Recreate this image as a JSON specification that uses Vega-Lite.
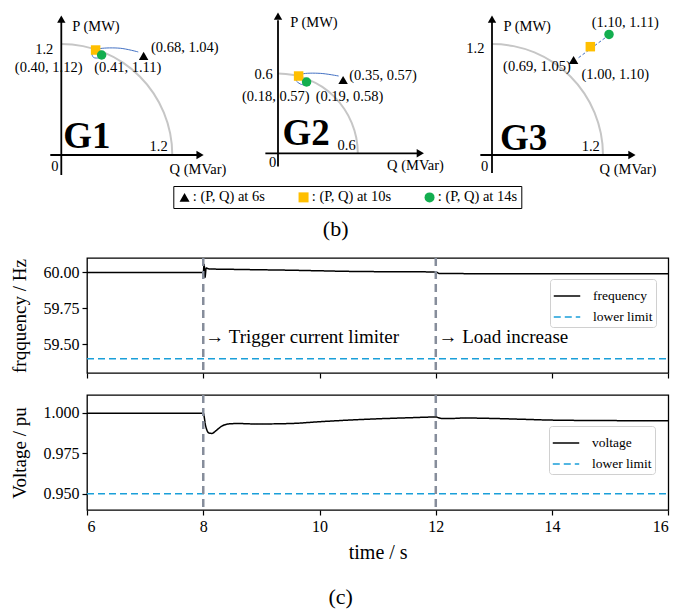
{
"$schema": "https://vega.github.io/schema/vega-lite/v6.json",
"background": "white",
"padding": {"left": 9, "top": 0, "right": 0, "bottom": 0},
"config": {
  "view": {"stroke": null},
  "font": "Liberation Serif",
  "text": {"font": "Liberation Serif", "color": "black"},
  "title": {"font": "Liberation Serif", "fontWeight": "normal", "color": "black", "fontSize": 22},
  "axis": {"labelFont": "Liberation Serif", "labelFontSize": 16, "labelColor": "black", "tickColor": "black", "tickWidth": 1.2, "tickSize": 5, "labelPadding": 3, "titleFont": "Liberation Serif", "titleFontSize": 19, "titleFontWeight": "normal", "titleColor": "black", "grid": false, "domain": false},
  "axisY": {"titlePadding": 14},
  "axisX": {"titlePadding": 8, "titleFontSize": 20},
  "legend": {"labelFont": "Liberation Serif", "labelColor": "black"}
},
"datasets": {
  "pts": [
    {"g": "G1", "t": "6s", "q": 0.89, "p": 1.072},
    {"g": "G1", "t": "10s", "q": 0.371, "p": 1.135},
    {"g": "G1", "t": "14s", "q": 0.436, "p": 1.081},
    {"g": "G2", "t": "6s", "q": 0.4895, "p": 0.551},
    {"g": "G2", "t": "10s", "q": 0.155, "p": 0.581},
    {"g": "G2", "t": "14s", "q": 0.215, "p": 0.536},
    {"g": "G3", "t": "6s", "q": 0.882, "p": 1.027},
    {"g": "G3", "t": "10s", "q": 1.063, "p": 1.171},
    {"g": "G3", "t": "14s", "q": 1.265, "p": 1.303}
  ],
  "traj": [
    {"g": "G1", "i": 1, "q": 0.832, "p": 1.114},
    {"g": "G1", "i": 2, "q": 0.638, "p": 1.154},
    {"g": "G1", "i": 3, "q": 0.422, "p": 1.151},
    {"g": "G1", "i": 4, "q": 0.371, "p": 1.135},
    {"g": "G1", "i": 5, "q": 0.332, "p": 1.103},
    {"g": "G1", "i": 6, "q": 0.349, "p": 1.054},
    {"g": "G1", "i": 7, "q": 0.4, "p": 1.049},
    {"g": "G2", "i": 1, "q": 0.456, "p": 0.581},
    {"g": "G2", "i": 2, "q": 0.318, "p": 0.601},
    {"g": "G2", "i": 3, "q": 0.18, "p": 0.596},
    {"g": "G2", "i": 4, "q": 0.155, "p": 0.581},
    {"g": "G2", "i": 5, "q": 0.135, "p": 0.551},
    {"g": "G2", "i": 6, "q": 0.168, "p": 0.521},
    {"g": "G2", "i": 7, "q": 0.198, "p": 0.514},
    {"g": "G3", "i": 1, "q": 0.936, "p": 1.052},
    {"g": "G3", "i": 2, "q": 1.225, "p": 1.268}
  ],
  "axes": [
    {"g": "G1", "q": -0.119, "q2": 1.47, "p": 0, "p2": 0},
    {"g": "G1", "q": 0, "q2": 0, "p": -0.216, "p2": 1.44},
    {"g": "G2", "q": -0.095, "q2": 1.045, "p": 0, "p2": 0},
    {"g": "G2", "q": 0, "q2": 0, "p": -0.1, "p2": 1.0},
    {"g": "G3", "q": -0.126, "q2": 1.49, "p": 0, "p2": 0},
    {"g": "G3", "q": 0, "q2": 0, "p": -0.195, "p2": 1.44}
  ],
  "arrows": [
    {"g": "G1", "dir": "right", "q": 1.5, "p": 0},
    {"g": "G1", "dir": "up", "q": 0, "p": 1.47},
    {"g": "G2", "dir": "right", "q": 1.07, "p": 0},
    {"g": "G2", "dir": "up", "q": 0, "p": 1.032},
    {"g": "G3", "dir": "right", "q": 1.513, "p": 0},
    {"g": "G3", "dir": "up", "q": 0, "p": 1.47}
  ],
  "arcs": [
    {"g": "G1", "q": 0, "p": 0},
    {"g": "G2", "q": 0, "p": 0},
    {"g": "G3", "q": 0, "p": 0}
  ],
  "txt": [
    {"g": "G1", "kind": "c", "label": "(0.40, 1.12)", "q": -0.137, "p": 0.937},
    {"g": "G1", "kind": "c", "label": "(0.41, 1.11)", "q": 0.719, "p": 0.937},
    {"g": "G1", "kind": "c", "label": "(0.68, 1.04)", "q": 1.335, "p": 1.153},
    {"g": "G1", "kind": "c", "label": "1.2", "q": -0.184, "p": 1.135},
    {"g": "G1", "kind": "c", "label": "1.2", "q": 1.052, "p": 0.09},
    {"g": "G1", "kind": "c", "label": "0", "q": -0.07, "p": -0.126},
    {"g": "G1", "kind": "l", "label": "P (MW)", "q": 0.119, "p": 1.384},
    {"g": "G1", "kind": "l", "label": "Q (MVar)", "q": 1.171, "p": -0.162},
    {"g": "G1", "kind": "big", "label": "G1", "q": 0.276, "p": 0.0757},
    {"g": "G2", "kind": "c", "label": "(0.35, 0.57)", "q": 0.79, "p": 0.581},
    {"g": "G2", "kind": "c", "label": "(0.18, 0.57)", "q": -0.0165, "p": 0.426},
    {"g": "G2", "kind": "c", "label": "(0.19, 0.58)", "q": 0.5376, "p": 0.426},
    {"g": "G2", "kind": "c", "label": "0.6", "q": -0.108, "p": 0.589},
    {"g": "G2", "kind": "c", "label": "0.6", "q": 0.516, "p": 0.057},
    {"g": "G2", "kind": "c", "label": "0", "q": -0.04, "p": -0.075},
    {"g": "G2", "kind": "l", "label": "P (MW)", "q": 0.0925, "p": 0.977},
    {"g": "G2", "kind": "l", "label": "Q (MVar)", "q": 0.82, "p": -0.093},
    {"g": "G2", "kind": "big", "label": "G2", "q": 0.211, "p": 0.0624},
    {"g": "G3", "kind": "c", "label": "(1.10, 1.11)", "q": 1.441, "p": 1.424},
    {"g": "G3", "kind": "c", "label": "(0.69, 1.05)", "q": 0.486, "p": 0.948},
    {"g": "G3", "kind": "c", "label": "(1.00, 1.10)", "q": 1.333, "p": 0.865},
    {"g": "G3", "kind": "c", "label": "1.2", "q": -0.18, "p": 1.143},
    {"g": "G3", "kind": "c", "label": "1.2", "q": 1.068, "p": 0.09},
    {"g": "G3", "kind": "c", "label": "0", "q": -0.08, "p": -0.126},
    {"g": "G3", "kind": "l", "label": "P (MW)", "q": 0.125, "p": 1.387},
    {"g": "G3", "kind": "l", "label": "Q (MVar)", "q": 1.163, "p": -0.162},
    {"g": "G3", "kind": "big", "label": "G3", "q": 0.342, "p": 0.054}
  ],
  "freq": [
    {"t": 6, "v": 60.0, "series": "frequency"},
    {"t": 8, "v": 60.0, "series": "frequency"},
    {"t": 8.015, "v": 60.055, "series": "frequency"},
    {"t": 8.03, "v": 59.965, "series": "frequency"},
    {"t": 8.05, "v": 60.03, "series": "frequency"},
    {"t": 8.1, "v": 60.024, "series": "frequency"},
    {"t": 8.5, "v": 60.021, "series": "frequency"},
    {"t": 9, "v": 60.018, "series": "frequency"},
    {"t": 9.5, "v": 60.015, "series": "frequency"},
    {"t": 10, "v": 60.011, "series": "frequency"},
    {"t": 10.5, "v": 60.007, "series": "frequency"},
    {"t": 11, "v": 60.005, "series": "frequency"},
    {"t": 11.5, "v": 60.004, "series": "frequency"},
    {"t": 12, "v": 60.003, "series": "frequency"},
    {"t": 12.06, "v": 59.992, "series": "frequency"},
    {"t": 13, "v": 59.991, "series": "frequency"},
    {"t": 16, "v": 59.991, "series": "frequency"},
    {"t": 6, "v": 59.4, "series": "lower limit"},
    {"t": 16, "v": 59.4, "series": "lower limit"}
  ],
  "volt": [
    {"t": 6, "v": 0.9998, "series": "voltage"},
    {"t": 8, "v": 0.9998, "series": "voltage"},
    {"t": 8.04, "v": 0.992, "series": "voltage"},
    {"t": 8.1, "v": 0.9875, "series": "voltage"},
    {"t": 8.15, "v": 0.9873, "series": "voltage"},
    {"t": 8.22, "v": 0.989, "series": "voltage"},
    {"t": 8.32, "v": 0.9918, "series": "voltage"},
    {"t": 8.45, "v": 0.9932, "series": "voltage"},
    {"t": 8.6, "v": 0.9934, "series": "voltage"},
    {"t": 8.9, "v": 0.9931, "series": "voltage"},
    {"t": 9.5, "v": 0.9934, "series": "voltage"},
    {"t": 10, "v": 0.9945, "series": "voltage"},
    {"t": 10.5, "v": 0.9955, "series": "voltage"},
    {"t": 11, "v": 0.9963, "series": "voltage"},
    {"t": 11.5, "v": 0.9969, "series": "voltage"},
    {"t": 12, "v": 0.9974, "series": "voltage"},
    {"t": 12.1, "v": 0.9965, "series": "voltage"},
    {"t": 12.25, "v": 0.9965, "series": "voltage"},
    {"t": 12.5, "v": 0.9968, "series": "voltage"},
    {"t": 13, "v": 0.9965, "series": "voltage"},
    {"t": 13.5, "v": 0.996, "series": "voltage"},
    {"t": 14, "v": 0.9955, "series": "voltage"},
    {"t": 15, "v": 0.9952, "series": "voltage"},
    {"t": 16, "v": 0.9951, "series": "voltage"},
    {"t": 6, "v": 0.95, "series": "lower limit"},
    {"t": 16, "v": 0.95, "series": "lower limit"}
  ],
  "events": [{"t": 8}, {"t": 12}],
  "ann": [
    {"t": 8.036, "v": 59.553, "label": "→ Trigger current limiter"},
    {"t": 12.046, "v": 59.553, "label": "→ Load increase"}
  ]
},
"vconcat": [
  {
    "width": 601.3, "height": 236,
    "resolve": {"scale": {"x": "independent", "y": "independent"}},
    "layer": [
      {
        "encoding": {
          "x": {"field": "q", "type": "quantitative", "scale": {"domain": [0.2778, 6.7784], "nice": false, "zero": false}, "axis": null},
          "y": {"field": "p", "type": "quantitative", "scale": {"domain": [-0.8757, 1.6757], "nice": false, "zero": false}, "axis": null}
        },
        "layer": [
          {"data": {"name": "arcs"}, "transform": [{"filter": "datum.g == 'G1'"}], "mark": {"type": "arc", "theta": 0, "theta2": 1.5708, "radius": 112, "radius2": 110, "fill": "#c6c6c6"}},
          {"data": {"name": "axes"}, "transform": [{"filter": "datum.g == 'G1'"}], "mark": {"type": "rule", "color": "black", "strokeWidth": 1.8}, "encoding": {"x2": {"field": "q2"}, "y2": {"field": "p2"}}},
          {"data": {"name": "arrows"}, "transform": [{"filter": "datum.g == 'G1' && datum.dir == 'right'"}], "mark": {"type": "point", "shape": "triangle-right", "filled": true, "color": "black", "size": 70, "opacity": 1}},
          {"data": {"name": "arrows"}, "transform": [{"filter": "datum.g == 'G1' && datum.dir == 'up'"}], "mark": {"type": "point", "shape": "triangle-up", "filled": true, "color": "black", "size": 70, "opacity": 1}},
          {"data": {"name": "traj"}, "transform": [{"filter": "datum.g == 'G1'"}], "mark": {"type": "line", "color": "#4472c4", "strokeWidth": 1, "interpolate": "catmull-rom"}, "encoding": {"order": {"field": "i", "type": "quantitative"}}},
          {"data": {"name": "pts"}, "transform": [{"filter": "datum.g == 'G1'"}], "mark": {"type": "point", "filled": true, "size": 90, "opacity": 1},
           "encoding": {
             "shape": {"field": "t", "type": "nominal", "scale": {"domain": ["6s", "10s", "14s"], "range": ["triangle-up", "square", "circle"]}},
             "color": {"field": "t", "type": "nominal", "scale": {"domain": ["6s", "10s", "14s"], "range": ["#000000", "#ffbf00", "#13ae4f"]},
               "legend": {"orient": "none", "legendX": 86.3, "legendY": 186, "direction": "horizontal", "title": null, "strokeColor": "black", "padding": 4, "columnPadding": 31, "labelFontSize": 14.5, "symbolSize": 100, "labelOffset": 1, "symbolStrokeWidth": 0, "labelExpr": "': (P, Q) at ' + datum.label"}}
           }},
          {"data": {"name": "txt"}, "transform": [{"filter": "datum.g == 'G1' && datum.kind == 'c'"}], "mark": {"type": "text", "fontSize": 14.5, "align": "center", "baseline": "middle"}, "encoding": {"text": {"field": "label"}}},
          {"data": {"name": "txt"}, "transform": [{"filter": "datum.g == 'G1' && datum.kind == 'l'"}], "mark": {"type": "text", "fontSize": 14.5, "align": "left", "baseline": "middle"}, "encoding": {"text": {"field": "label"}}},
          {"data": {"name": "txt"}, "transform": [{"filter": "datum.g == 'G1' && datum.kind == 'big'"}], "mark": {"type": "text", "fontSize": 37, "fontWeight": "bold", "align": "center", "baseline": "alphabetic"}, "encoding": {"text": {"field": "label"}}}
        ]
      },
      {
        "encoding": {
          "x": {"field": "q", "type": "quantitative", "scale": {"domain": [-1.4361, 3.085], "nice": false, "zero": false}, "axis": null},
          "y": {"field": "p", "type": "quantitative", "scale": {"domain": [-0.6218, 1.1526], "nice": false, "zero": false}, "axis": null}
        },
        "layer": [
          {"data": {"name": "arcs"}, "transform": [{"filter": "datum.g == 'G2'"}], "mark": {"type": "arc", "theta": 0, "theta2": 1.5708, "radius": 80.8, "radius2": 78.8, "fill": "#c6c6c6"}},
          {"data": {"name": "axes"}, "transform": [{"filter": "datum.g == 'G2'"}], "mark": {"type": "rule", "color": "black", "strokeWidth": 1.8}, "encoding": {"x2": {"field": "q2"}, "y2": {"field": "p2"}}},
          {"data": {"name": "arrows"}, "transform": [{"filter": "datum.g == 'G2' && datum.dir == 'right'"}], "mark": {"type": "point", "shape": "triangle-right", "filled": true, "color": "black", "size": 70, "opacity": 1}},
          {"data": {"name": "arrows"}, "transform": [{"filter": "datum.g == 'G2' && datum.dir == 'up'"}], "mark": {"type": "point", "shape": "triangle-up", "filled": true, "color": "black", "size": 70, "opacity": 1}},
          {"data": {"name": "traj"}, "transform": [{"filter": "datum.g == 'G2'"}], "mark": {"type": "line", "color": "#4472c4", "strokeWidth": 1, "interpolate": "catmull-rom"}, "encoding": {"order": {"field": "i", "type": "quantitative"}}},
          {"data": {"name": "pts"}, "transform": [{"filter": "datum.g == 'G2'"}], "mark": {"type": "point", "filled": true, "size": 90, "opacity": 1},
           "encoding": {
             "shape": {"field": "t", "type": "nominal", "scale": {"domain": ["6s", "10s", "14s"], "range": ["triangle-up", "square", "circle"]}},
             "color": {"field": "t", "type": "nominal", "scale": {"domain": ["6s", "10s", "14s"], "range": ["#000000", "#ffbf00", "#13ae4f"]}}
           }},
          {"data": {"name": "txt"}, "transform": [{"filter": "datum.g == 'G2' && datum.kind == 'c'"}], "mark": {"type": "text", "fontSize": 14.5, "align": "center", "baseline": "middle"}, "encoding": {"text": {"field": "label"}}},
          {"data": {"name": "txt"}, "transform": [{"filter": "datum.g == 'G2' && datum.kind == 'l'"}], "mark": {"type": "text", "fontSize": 14.5, "align": "left", "baseline": "middle"}, "encoding": {"text": {"field": "label"}}},
          {"data": {"name": "txt"}, "transform": [{"filter": "datum.g == 'G2' && datum.kind == 'big'"}], "mark": {"type": "text", "fontSize": 37, "fontWeight": "bold", "align": "center", "baseline": "alphabetic"}, "encoding": {"text": {"field": "label"}}}
        ]
      },
      {
        "encoding": {
          "x": {"field": "q", "type": "quantitative", "scale": {"domain": [-4.3784, 2.1222], "nice": false, "zero": false}, "axis": null},
          "y": {"field": "p", "type": "quantitative", "scale": {"domain": [-0.8757, 1.6757], "nice": false, "zero": false}, "axis": null}
        },
        "layer": [
          {"data": {"name": "arcs"}, "transform": [{"filter": "datum.g == 'G3'"}], "mark": {"type": "arc", "theta": 0, "theta2": 1.5708, "radius": 112, "radius2": 110, "fill": "#c6c6c6"}},
          {"data": {"name": "axes"}, "transform": [{"filter": "datum.g == 'G3'"}], "mark": {"type": "rule", "color": "black", "strokeWidth": 1.8}, "encoding": {"x2": {"field": "q2"}, "y2": {"field": "p2"}}},
          {"data": {"name": "arrows"}, "transform": [{"filter": "datum.g == 'G3' && datum.dir == 'right'"}], "mark": {"type": "point", "shape": "triangle-right", "filled": true, "color": "black", "size": 70, "opacity": 1}},
          {"data": {"name": "arrows"}, "transform": [{"filter": "datum.g == 'G3' && datum.dir == 'up'"}], "mark": {"type": "point", "shape": "triangle-up", "filled": true, "color": "black", "size": 70, "opacity": 1}},
          {"data": {"name": "traj"}, "transform": [{"filter": "datum.g == 'G3'"}], "mark": {"type": "line", "color": "#4472c4", "strokeWidth": 1, "strokeDash": [3, 2]}, "encoding": {"order": {"field": "i", "type": "quantitative"}}},
          {"data": {"name": "pts"}, "transform": [{"filter": "datum.g == 'G3'"}], "mark": {"type": "point", "filled": true, "size": 90, "opacity": 1},
           "encoding": {
             "shape": {"field": "t", "type": "nominal", "scale": {"domain": ["6s", "10s", "14s"], "range": ["triangle-up", "square", "circle"]}},
             "color": {"field": "t", "type": "nominal", "scale": {"domain": ["6s", "10s", "14s"], "range": ["#000000", "#ffbf00", "#13ae4f"]}}
           }},
          {"data": {"name": "txt"}, "transform": [{"filter": "datum.g == 'G3' && datum.kind == 'c'"}], "mark": {"type": "text", "fontSize": 14.5, "align": "center", "baseline": "middle"}, "encoding": {"text": {"field": "label"}}},
          {"data": {"name": "txt"}, "transform": [{"filter": "datum.g == 'G3' && datum.kind == 'l'"}], "mark": {"type": "text", "fontSize": 14.5, "align": "left", "baseline": "middle"}, "encoding": {"text": {"field": "label"}}},
          {"data": {"name": "txt"}, "transform": [{"filter": "datum.g == 'G3' && datum.kind == 'big'"}], "mark": {"type": "text", "fontSize": 37, "fontWeight": "bold", "align": "center", "baseline": "alphabetic"}, "encoding": {"text": {"field": "label"}}}
        ]
      }
    ]
  },
  {
    "width": 581.3, "height": 115,
    "view": {"stroke": "black", "strokeWidth": 1.3},
    "title": {"text": "(b)", "orient": "top", "anchor": "middle", "frame": "group", "dx": -42, "offset": 16, "fontSize": 22},
    "layer": [
      {"data": {"name": "freq"}, "mark": {"type": "line", "strokeWidth": 1.5, "interpolate": "monotone"},
       "encoding": {
         "x": {"field": "t", "type": "quantitative", "scale": {"domain": [6, 16], "nice": false, "zero": false}, "axis": {"values": [6, 8, 10, 12, 14, 16], "labels": false, "title": null}},
         "y": {"field": "v", "type": "quantitative", "scale": {"domain": [59.3, 60.1], "nice": false, "zero": false}, "axis": {"values": [59.5, 59.75, 60], "format": ".2f", "title": "frqquency / Hz"}},
         "color": {"field": "series", "type": "nominal", "scale": {"domain": ["frequency", "lower limit"], "range": ["#000000", "#1a9fd9"]},
           "legend": {"orient": "none", "legendX": 463, "legendY": 21, "title": null, "fillColor": "white", "strokeColor": "#d0d0d0", "cornerRadius": 3, "padding": 3, "labelFontSize": 13.5, "symbolType": "stroke", "symbolSize": 700, "symbolStrokeWidth": 1.5, "labelOffset": 12, "rowPadding": -7}},
         "strokeDash": {"field": "series", "type": "nominal", "scale": {"domain": ["frequency", "lower limit"], "range": [[1, 0], [7, 4]]}}
       }},
      {"data": {"name": "events"}, "mark": {"type": "rule", "color": "#868d9b", "strokeWidth": 2.5, "strokeDash": [8, 5]}, "encoding": {"x": {"field": "t", "type": "quantitative"}}},
      {"data": {"name": "ann"}, "mark": {"type": "text", "align": "left", "baseline": "middle", "fontSize": 19}, "encoding": {"x": {"field": "t", "type": "quantitative"}, "y": {"field": "v", "type": "quantitative"}, "text": {"field": "label"}}}
    ]
  },
  {
    "width": 581.3, "height": 115,
    "view": {"stroke": "black", "strokeWidth": 1.3},
    "title": {"text": "(c)", "orient": "bottom", "anchor": "middle", "frame": "group", "dx": -37, "offset": 25, "fontSize": 22},
    "layer": [
      {"data": {"name": "volt"}, "mark": {"type": "line", "strokeWidth": 1.5, "interpolate": "monotone"},
       "encoding": {
         "x": {"field": "t", "type": "quantitative", "scale": {"domain": [6, 16], "nice": false, "zero": false}, "axis": {"values": [6, 8, 10, 12, 14, 16], "format": "d", "title": "time / s"}},
         "y": {"field": "v", "type": "quantitative", "scale": {"domain": [0.94, 1.011], "nice": false, "zero": false}, "axis": {"values": [0.95, 0.975, 1.0], "format": ".3f", "title": "Voltage / pu"}},
         "color": {"field": "series", "type": "nominal", "scale": {"domain": ["voltage", "lower limit"], "range": ["#000000", "#1a9fd9"]},
           "legend": {"orient": "none", "legendX": 462, "legendY": 31, "title": null, "fillColor": "white", "strokeColor": "#d0d0d0", "cornerRadius": 3, "padding": 3, "labelFontSize": 13.5, "symbolType": "stroke", "symbolSize": 700, "symbolStrokeWidth": 1.5, "labelOffset": 12, "rowPadding": -7}},
         "strokeDash": {"field": "series", "type": "nominal", "scale": {"domain": ["voltage", "lower limit"], "range": [[1, 0], [7, 4]]}}
       }},
      {"data": {"name": "events"}, "mark": {"type": "rule", "color": "#868d9b", "strokeWidth": 2.5, "strokeDash": [8, 5]}, "encoding": {"x": {"field": "t", "type": "quantitative"}}}
    ]
  }
],
"spacing": 22,
"bounds": "flush",
"resolve": {"scale": {"color": "independent", "shape": "independent", "strokeDash": "independent"}}
}
